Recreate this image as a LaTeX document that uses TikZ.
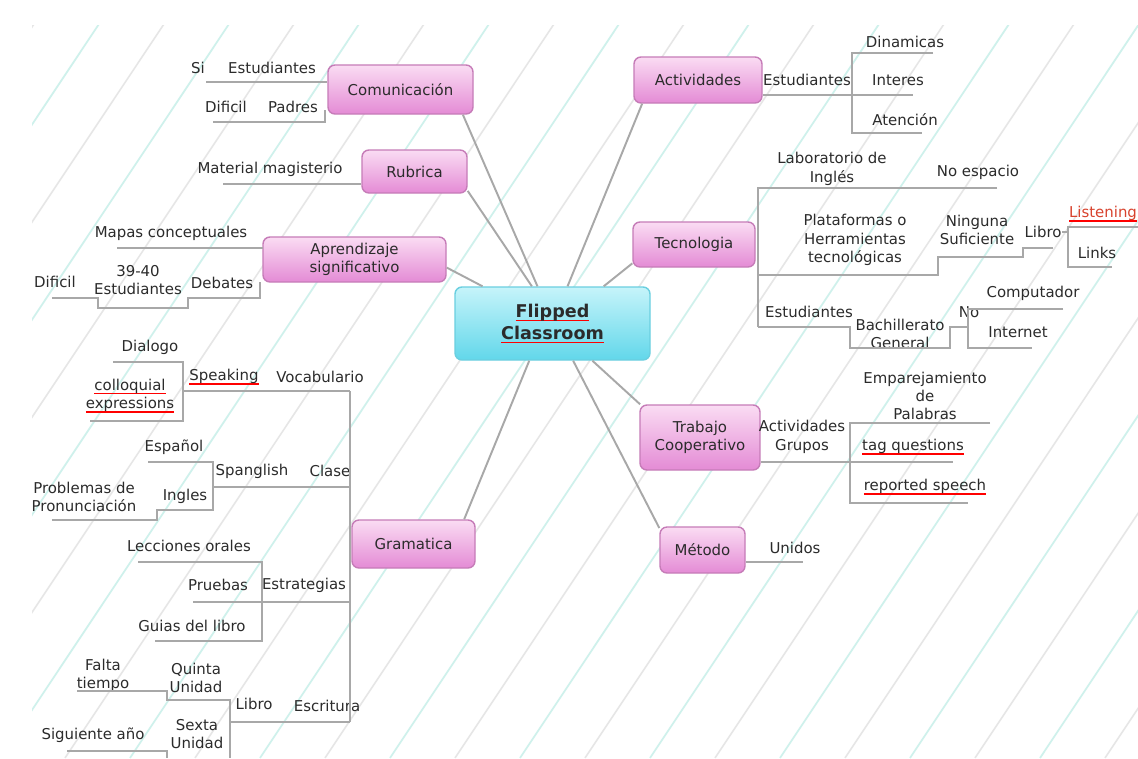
\documentclass[tikz,border=0pt]{standalone}
\usepackage{fontspec}
\setmainfont{DejaVu Sans}
\usepackage{tikz}
\usepackage{xcolor}
\usetikzlibrary{positioning}

\definecolor{pinktop}{HTML}{FADCF3}
\definecolor{pinkbot}{HTML}{E48BD5}
\definecolor{pinkline}{HTML}{C67CB8}
\definecolor{cyantop}{HTML}{C6F4FA}
\definecolor{cyanbot}{HTML}{62D7EA}
\definecolor{cyanline}{HTML}{6ACFE0}
\definecolor{linegray}{HTML}{A8A8A8}
\definecolor{bgteal}{HTML}{CFF1EC}
\definecolor{bggray}{HTML}{E6E6E6}
\definecolor{ink}{HTML}{2B2B2B}
\definecolor{listred}{HTML}{D8432E}

\newcommand\pxu{0.02cm}
\newcommand\mapfont{\fontsize{8.5}{10.4}\selectfont}
\newsavebox\ulbox
\newcommand\redul[1]{\leavevmode\sbox\ulbox{#1}\rlap{\textcolor{red}{\rule[-0.45ex]{\wd\ulbox}{0.7pt}}}\usebox\ulbox}

\begin{document}
\begin{tikzpicture}[x=0.02cm, y=-0.02cm,
    topic/.style={rectangle, rounded corners=0.14cm, draw=pinkline, line width=0.8pt,
        top color=pinktop, bottom color=pinkbot, align=center, inner sep=0pt,
        font=\mapfont, text=ink},
    hub/.style={topic, draw=cyanline, top color=cyantop, bottom color=cyanbot,
        font=\fontsize{10}{12.5}\selectfont\bfseries},
    leaf/.style={inner sep=0pt, align=center, font=\mapfont, text=ink},
    branch/.style={draw=linegray, line width=0.8pt},
    spoke/.style={draw=linegray, line width=1.1pt}]
    \useasboundingbox (0,0) rectangle (1138,758);

    % background stripes
    \fill[white] (0,0) rectangle (1138,758);
    \begin{scope}
        \clip (32,25) rectangle (1138,758);
        \foreach \s in {-520,-390,...,1150} {
            \draw[bgteal, line width=1pt] (\s,758) -- ++(505,-758);
            \draw[bggray, line width=0.9pt] (\s+65,758) -- ++(505,-758);
        }
    \end{scope}

    % main topics
    \node[hub, minimum width=195*\pxu, minimum height=73*\pxu] (fc) at (552.5,323.5) {\redul{Flipped}\\\redul{Classroom}};
    \node[topic, minimum width=145*\pxu, minimum height=49*\pxu] (com) at (400.5,89.5) {Comunicación};
    \node[topic, minimum width=105*\pxu, minimum height=43*\pxu] (rub) at (414.5,171.5) {Rubrica};
    \node[topic, minimum width=183*\pxu, minimum height=45*\pxu] (apr) at (354.5,259.5) {Aprendizaje\\significativo};
    \node[topic, minimum width=123*\pxu, minimum height=48*\pxu] (gram) at (413.5,544) {Gramatica};
    \node[topic, minimum width=128*\pxu, minimum height=46*\pxu] (act) at (698,80) {Actividades};
    \node[topic, minimum width=122*\pxu, minimum height=45*\pxu] (tec) at (694,244.5) {Tecnologia};
    \node[topic, minimum width=120*\pxu, minimum height=65*\pxu] (trab) at (700,437.5) {Trabajo\\Cooperativo};
    \node[topic, minimum width=85*\pxu, minimum height=46*\pxu] (met) at (702.5,550) {Método};

    \draw[spoke] (fc.112) to (com.338)
        (fc.119) to (rub.-20)
        (fc.152) to (apr.-5)
        (fc.238) to (gram.26)
        (fc.68) to (act.203)
        (fc.36) to (tec.197)
        (fc.317) to (trab.151)
        (fc.299) to (met.153);

    % left side
    \node[leaf] (si) at (198,68) {Si};
    \node[leaf] (est1) at (272,68) {Estudiantes};
    \node[leaf] (dif1) at (226,107) {Dificil};
    \node[leaf] (pad) at (293,107) {Padres};
    \draw[branch] (206,82) -- (com.west |- 0,82);
    \draw[branch] (213,122) -- (325,122) -- (325,110);

    \node[leaf] (mat) at (270,169) {Material magisterio};
    \draw[branch] (223,184) -- (rub.west |- 0,184);

    \node[leaf] (map) at (171,233) {Mapas conceptuales};
    \node[leaf] (dif2) at (55,282) {Dificil};
    \node[leaf] (est2) at (138,280) {39-40\\Estudiantes};
    \node[leaf] (deb) at (222,283) {Debates};
    \draw[branch] (117,248) -- (263,248);
    \draw[branch] (52,298) -- (98,298) -- (98,308) -- (188,308) -- (188,298)
        -- (260,298) -- (260,282);

    \node[leaf] (dia) at (150,347) {Dialogo};
    \node[leaf] (spk) at (224,377) {\redul{Speaking}};
    \node[leaf] (voc) at (320,377) {Vocabulario};
    \node[leaf] (col) at (130,396) {\redul{colloquial}\\\redul{expressions}};
    \node[leaf] (esp) at (174,447) {Español};
    \node[leaf] (spg) at (252,471) {Spanglish};
    \node[leaf] (cla) at (330,471) {Clase};
    \node[leaf] (ing) at (185,496) {Ingles};
    \node[leaf] (pro) at (84,497) {Problemas de\\Pronunciación};
    \node[leaf] (lec) at (189,546) {Lecciones orales};
    \node[leaf] (pru) at (218,585) {Pruebas};
    \node[leaf] (estr) at (304,585) {Estrategias};
    \node[leaf] (gui) at (192,626) {Guias del libro};
    \node[leaf] (fal) at (103,675) {Falta\\tiempo};
    \node[leaf] (qui) at (196,678) {Quinta\\Unidad};
    \node[leaf] (lib1) at (254,704) {Libro};
    \node[leaf] (esc) at (327,706) {Escritura};
    \node[leaf] (sex) at (197,734) {Sexta\\Unidad};
    \node[leaf] (sig) at (93,735) {Siguiente año};

    \draw[branch] (350,391) -- (350,722);
    \draw[branch] (183,391) -- (350,391);
    \draw[branch] (113,362) -- (183,362) -- (183,421) -- (90,421);
    \draw[branch] (213,487) -- (350,487);
    \draw[branch] (148,462) -- (213,462) -- (213,510) -- (157,510) -- (157,520) -- (52,520);
    \draw[branch] (193,602) -- (350,602);
    \draw[branch] (138,562) -- (262,562) -- (262,641) -- (155,641);
    \draw[branch] (230,722) -- (350,722);
    \draw[branch] (77,691) -- (167,691) -- (167,700) -- (230,700) -- (230,758);
    \draw[branch] (67,751) -- (167,751) -- (167,758);

    % right side
    \node[leaf] (est3) at (807,80) {Estudiantes};
    \node[leaf] (din) at (905,42) {Dinamicas};
    \node[leaf] (inte) at (898,80) {Interes};
    \node[leaf] (ate) at (905,120) {Atención};
    \draw[branch] (act.east |- 0,95) -- (913,95);
    \draw[branch] (933,53) -- (852,53) -- (852,133) -- (922,133);

    \node[leaf] (lab) at (832,169) {Laboratorio de\\Inglés};
    \node[leaf] (noe) at (978,172) {No espacio};
    \node[leaf] (pla) at (855,240) {Plataformas o\\Herramientas\\tecnológicas};
    \node[leaf] (nin) at (977,230) {Ninguna\\Suficiente};
    \node[leaf] (lib2) at (1043,232) {Libro};
    \node[leaf, text=listred] (lis) at (1103,214) {\redul{Listening}};
    \node[leaf] (lin) at (1097,253) {Links};
    \node[leaf] (est4) at (809,312) {Estudiantes};
    \node[leaf] (bac) at (900,334) {Bachillerato\\General};
    \node[leaf] (no) at (969,312) {No};
    \node[leaf] (cmp) at (1033,293) {Computador};
    \node[leaf] (int) at (1018,332) {Internet};

    \draw[branch] (997,188) -- (758,188) -- (758,327);
    \draw[branch] (758,275) -- (938,275) -- (938,257) -- (1023,257) -- (1023,248) -- (1053,248);
    \draw[branch] (1062,232) -- (1068,232);
    \draw[branch] (1138,227) -- (1068,227) -- (1068,267) -- (1112,267);
    \draw[branch] (758,327) -- (850,327) -- (850,348) -- (950,348) -- (950,327) -- (968,327);
    \draw[branch] (1063,309) -- (968,309) -- (968,348) -- (1032,348);

    \node[leaf] (emp) at (925,396) {Emparejamiento\\de\\Palabras};
    \node[leaf] (gru) at (802,437) {Actividades\\Grupos};
    \node[leaf] (tag) at (913,447) {\redul{tag questions}};
    \node[leaf] (rep) at (925,487) {\redul{reported speech}};
    \draw[branch] (trab.east |- 0,462) -- (953,462);
    \draw[branch] (990,423) -- (850,423) -- (850,503) -- (968,503);

    \node[leaf] (uni) at (795,548) {Unidos};
    \draw[branch] (met.east |- 0,562) -- (803,562);
\end{tikzpicture}
\end{document}
